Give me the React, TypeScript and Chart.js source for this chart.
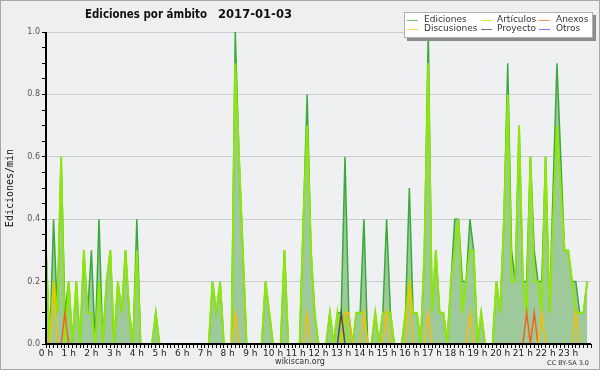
import React, { useEffect, useRef } from 'react';
import { Chart, registerables } from 'chart.js';

Chart.register(...registerables);

// 10-minute bins over the day, x in hours
const BINS_PER_HOUR = 6;
const HOUR_LABELS = ['0 h','1 h','2 h','3 h','4 h','5 h','6 h','7 h','8 h','9 h','10 h','11 h','12 h','13 h','14 h','15 h','16 h','17 h','18 h','19 h','20 h','21 h','22 h','23 h'];
const Y_LABELS = ['0.0', '0.2', '0.4', '0.6', '0.8', '1.0'];

// one row per hour (six 10-minute bins)
const EDICIONES = [
  0.3,0,0.4,0.1,0.6,0.1,
  0.2,0,0.2,0,0.3,0.1,
  0.3,0,0.4,0,0.2,0.3,
  0,0.2,0.1,0.3,0.1,0,
  0.4,0,0,0,0,0.1,
  0,0,0,0,0,0,
  0,0,0,0,0,0,
  0,0,0.2,0.1,0.2,0,
  0,0,1.0,0.6,0.3,0,
  0,0,0,0,0.2,0.1,
  0,0,0,0.3,0,0,
  0,0,0.4,0.8,0.3,0.1,
  0,0,0,0.1,0,0.1,
  0.1,0.6,0.1,0,0.1,0.1,
  0.4,0,0,0.1,0,0.1,
  0.4,0.1,0,0,0,0.1,
  0.5,0.1,0.1,0,0.3,1.0,
  0.1,0.3,0.1,0.1,0,0.2,
  0.4,0.4,0.2,0.2,0.4,0.3,
  0,0.1,0,0,0,0.2,
  0.1,0.4,0.9,0.3,0.2,0.7,
  0.2,0.2,0.6,0.3,0.2,0.2,
  0.6,0.1,0.5,0.9,0.6,0.3,
  0.3,0.2,0.2,0.1,0.1,0.2,
];

const ARTICULOS = [
  0.3,0,0.2,0.1,0.6,0,
  0.2,0,0.2,0,0.3,0.1,
  0.1,0,0.2,0,0.2,0.3,
  0,0.2,0.1,0.3,0.1,0,
  0.3,0,0,0,0,0.1,
  0,0,0,0,0,0,
  0,0,0,0,0,0,
  0,0,0.2,0.1,0.2,0,
  0,0,0.9,0.6,0.3,0,
  0,0,0,0,0.2,0.1,
  0,0,0,0.3,0,0,
  0,0,0.4,0.7,0.3,0.1,
  0,0,0,0.1,0,0.1,
  0,0.1,0,0,0.1,0.1,
  0.1,0,0,0.1,0,0.1,
  0.1,0.1,0,0,0,0.1,
  0.2,0.1,0.1,0,0.3,0.9,
  0.1,0.3,0.1,0.1,0,0.2,
  0.3,0.4,0.1,0.2,0.3,0.3,
  0,0.1,0,0,0,0.2,
  0.1,0.4,0.8,0.2,0.2,0.7,
  0.2,0.1,0.6,0.2,0.2,0.1,
  0.6,0.1,0.4,0.7,0.5,0.3,
  0.3,0.2,0.1,0.1,0.1,0.2,
];

const ANEXOS = [
  0,0,0,0,0,0.1,
  0,0,0,0,0,0,
  0,0,0,0,0,0,
  0,0,0,0,0,0,
  0,0,0,0,0,0,
  0,0,0,0,0,0,
  0,0,0,0,0,0,
  0,0,0,0,0,0,
  0,0,0,0,0,0,
  0,0,0,0,0,0,
  0,0,0,0,0,0,
  0,0,0,0,0,0,
  0,0,0,0,0,0,
  0,0,0,0,0,0,
  0,0,0,0,0,0,
  0,0,0,0,0,0,
  0,0,0,0,0,0,
  0,0,0,0,0,0,
  0,0,0,0,0,0,
  0,0,0,0,0,0,
  0,0,0,0,0,0,
  0,0.1,0,0.1,0,0,
  0,0,0,0,0,0,
  0,0,0,0,0,0,
];

const DISCUSIONES = [
  0,0,0.2,0,0,0,
  0,0,0,0,0,0,
  0,0,0,0,0,0,
  0,0,0,0,0,0,
  0,0,0,0,0,0,
  0,0,0,0,0,0,
  0,0,0,0,0,0,
  0,0,0,0,0,0,
  0,0,0.1,0,0,0,
  0,0,0,0,0,0,
  0,0,0,0,0,0,
  0,0,0,0.1,0,0,
  0,0,0,0,0,0,
  0,0.1,0.1,0,0,0,
  0.1,0,0,0,0,0,
  0.1,0,0,0,0,0,
  0.2,0,0,0,0,0.1,
  0,0,0,0,0,0,
  0,0,0,0,0.1,0,
  0,0,0,0,0,0,
  0,0,0,0,0,0,
  0,0,0,0,0,0.1,
  0,0,0,0,0,0,
  0,0,0.1,0,0,0,
];

const PROYECTO = [
  0,0,0,0,0,0,
  0,0,0,0,0,0,
  0,0,0,0,0,0,
  0,0,0,0,0,0,
  0,0,0,0,0,0,
  0,0,0,0,0,0,
  0,0,0,0,0,0,
  0,0,0,0,0,0,
  0,0,0,0,0,0,
  0,0,0,0,0,0,
  0,0,0,0,0,0,
  0,0,0,0,0,0,
  0,0,0,0,0,0,
  0.1,0,0,0,0,0,
  0,0,0,0,0,0,
  0,0,0,0,0,0,
  0,0,0,0,0,0,
  0,0,0,0,0,0,
  0,0,0,0,0,0,
  0,0,0,0,0,0,
  0,0,0,0,0,0,
  0,0,0,0,0,0,
  0,0,0,0,0,0,
  0,0,0,0,0,0,
];

const OTROS = EDICIONES.map(() => 0);

const SERIES = [
  { label: 'Ediciones', values: EDICIONES, color: '#3aaa3a', legend: '#6acb6a', width: 1.5, fill: true },
  { label: 'Artículos', values: ARTICULOS, color: '#8ee60a', legend: '#c6ec3a', width: 2, fill: false },
  { label: 'Anexos', values: ANEXOS, color: '#f0641e', legend: '#f8905a', width: 1.5, fill: false },
  { label: 'Discusiones', values: DISCUSIONES, color: '#f5c000', legend: '#fcd640', width: 1.5, fill: false },
  { label: 'Proyecto', values: PROYECTO, color: '#505050', legend: '#707070', width: 1.5, fill: false },
  { label: 'Otros', values: OTROS, color: '#9040f0', legend: '#a060ff', width: 1.5, fill: false },
];

const TITLE_MAIN = 'Ediciones por ámbito';
const TITLE_DATE = '2017-01-03';
const Y_TITLE = 'Ediciones/min';
const CREDIT_SITE = 'wikiscan.org';
const CREDIT_LICENSE = 'CC BY-SA 3.0';

const OUTER_BG = '#efefef';
const PLOT_BG = '#eff0f2';
const FILL = 'rgba(157,201,155,1)';

const decorPlugin = {
  id: 'decor',
  beforeDraw(chart: any) {
    const { ctx, chartArea: a, width, height } = chart;
    ctx.save();
    ctx.fillStyle = OUTER_BG;
    ctx.fillRect(0, 0, width, height);
    ctx.fillStyle = PLOT_BG;
    ctx.fillRect(a.left, a.top, a.right - a.left, a.bottom - a.top);
    ctx.strokeStyle = '#a8a8a8';
    ctx.lineWidth = 1;
    ctx.strokeRect(0.5, 0.5, width - 1, height - 1);
    ctx.restore();
  },
  afterDatasetsDraw(chart: any) {
    const { ctx, chartArea: a } = chart;
    ctx.save();
    ctx.strokeStyle = '#000';
    ctx.lineWidth = 2;
    ctx.beginPath();
    ctx.moveTo(a.left, a.top);
    ctx.lineTo(a.left, a.bottom);
    ctx.lineTo(a.right, a.bottom);
    ctx.stroke();
    ctx.restore();
  },
  afterDraw(chart: any) {
    const { ctx } = chart;
    ctx.save();
    // title
    ctx.fillStyle = '#111';
    ctx.textBaseline = 'alphabetic';
    ctx.textAlign = 'left';
    ctx.font = 'bold 12px "DejaVu Sans"';
    ctx.fillText(TITLE_MAIN, 85, 18, 122);
    ctx.fillText(TITLE_DATE, 218, 18, 74);
    // legend box
    const bx = 404, by = 12, bw = 189, bh = 26;
    ctx.fillStyle = '#8c8c8c';
    ctx.fillRect(bx + 3, by + 3, bw, bh);
    ctx.fillStyle = '#ffffff';
    ctx.fillRect(bx, by, bw, bh);
    ctx.strokeStyle = '#b0b0b0';
    ctx.lineWidth = 1;
    ctx.strokeRect(bx + 0.5, by + 0.5, bw - 1, bh - 1);
    const colLine = [407, 481, 539];
    const colText = [424, 497, 556];
    const rowY = [19.5, 29];
    ctx.font = '9px "DejaVu Sans"';
    ctx.textBaseline = 'middle';
    SERIES.forEach((s, i) => {
      const col = i % 3;
      const row = Math.floor(i / 3);
      const y = rowY[row];
      ctx.strokeStyle = s.legend;
      ctx.lineWidth = 1;
      ctx.beginPath();
      ctx.moveTo(colLine[col], Math.round(y) + 0.5);
      ctx.lineTo(colLine[col] + 11, Math.round(y) + 0.5);
      ctx.stroke();
      ctx.fillStyle = '#333';
      ctx.fillText(s.label, colText[col], y);
    });
    // credits
    ctx.textBaseline = 'alphabetic';
    ctx.fillStyle = '#333';
    ctx.font = '8px "DejaVu Sans"';
    ctx.textAlign = 'center';
    ctx.fillText(CREDIT_SITE, 300, 364);
    ctx.font = '6.5px "DejaVu Sans"';
    ctx.textAlign = 'right';
    ctx.fillText(CREDIT_LICENSE, 589, 365);
    ctx.restore();
  },
};

function isMultiple(v: number, step: number) {
  const r = v / step;
  return Math.abs(r - Math.round(r)) < 1e-6;
}

export default function App() {
  const ref = useRef<HTMLCanvasElement | null>(null);
  useEffect(() => {
    document.body.style.margin = '0';
    const canvas = ref.current;
    if (!canvas) return;
    Chart.defaults.font.family = '"DejaVu Sans"';
    const order = [6, 5, 4, 3, 2, 1];
    const chart = new Chart(canvas, {
      type: 'line',
      data: {
        datasets: SERIES.map((s, i) => ({
          label: s.label,
          data: s.values.map((v, j) => ({ x: j / BINS_PER_HOUR, y: v })),
          borderColor: s.color,
          backgroundColor: s.fill ? FILL : s.color,
          borderWidth: s.width,
          fill: s.fill ? 'origin' : false,
          pointRadius: 0,
          tension: 0,
          order: order[i],
        })),
      },
      options: {
        animation: false,
        responsive: false,
        devicePixelRatio: 1,
        events: [],
        layout: { padding: { left: 0, top: 32, right: 9, bottom: 0 } },
        plugins: {
          legend: { display: false },
          title: { display: false },
          tooltip: { enabled: false },
        },
        scales: {
          x: {
            type: 'linear',
            min: 0,
            max: 24,
            border: { display: false },
            grid: {
              drawOnChartArea: false,
              tickLength: 4,
              tickColor: '#000',
              lineWidth: 1,
            },
            ticks: {
              stepSize: 1 / BINS_PER_HOUR,
              autoSkip: false,
              maxRotation: 0,
              padding: 0,
              color: '#222',
              font: { size: 9, family: '"DejaVu Sans"' },
              callback: (v: any) => {
                const n = Number(v);
                const h = Math.round(n);
                return Math.abs(n - h) < 1e-6 && h < 24 ? HOUR_LABELS[h] : '';
              },
            },
            afterFit: (s: any) => { s.height = 26; },
          },
          y: {
            min: 0,
            max: 1,
            border: { display: false },
            grid: {
              color: (c: any) => (isMultiple(c.tick.value, 0.2) ? '#cccccc' : 'rgba(0,0,0,0)'),
              tickColor: '#000',
              tickLength: 4,
              lineWidth: 1,
            },
            ticks: {
              stepSize: 0.05,
              autoSkip: false,
              padding: 2,
              color: '#555',
              font: { size: 8, family: '"DejaVu Sans"' },
              callback: (v: any) => {
                const n = Number(v);
                return isMultiple(n, 0.2) ? Y_LABELS[Math.round(n / 0.2)] : '';
              },
            },
            title: {
              display: true,
              text: Y_TITLE,
              color: '#111',
              font: { size: 10, family: '"DejaVu Sans Mono"' },
              padding: { top: 4, bottom: 0 },
            },
            afterFit: (s: any) => { s.width = 46; },
          },
        },
      },
      plugins: [decorPlugin],
    });
    return () => chart.destroy();
  }, []);
  return <canvas ref={ref} width={600} height={370} style={{ display: 'block' }} />;
}
